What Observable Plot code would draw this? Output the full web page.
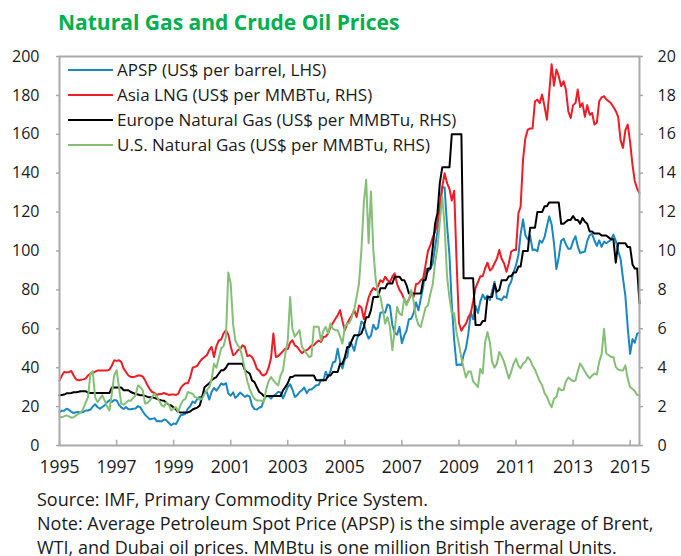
<!DOCTYPE html>
<html><head><meta charset="utf-8">
<script src="https://cdn.jsdelivr.net/npm/d3@7"></script>
<script src="https://cdn.jsdelivr.net/npm/@observablehq/plot@0.6"></script>
<style>
body{margin:0;background:#fff;font-family:"Open Sans",sans-serif;color:#1a1a1a}
#wrap{position:relative;width:681px;height:556px;overflow:hidden}
#title{position:absolute;left:58px;top:0;height:44px;line-height:44px;font-weight:bold;color:#00b050;font-size:21px;white-space:nowrap}
#chart{position:absolute;left:0;top:44px}
#legend{position:absolute;left:68px;top:57px}
.row{display:flex;align-items:center;height:25px;font-size:17px;white-space:nowrap}
.sw{width:45px;height:2px;margin-right:4px}
#foot{position:absolute;left:37px;top:487px;font-size:18px;line-height:24px;white-space:nowrap}
</style>
</head><body>
<div id="wrap">
  <div id="title">Natural Gas and Crude Oil Prices</div>
  <div id="chart"></div>
  <div id="legend"></div>
  <div id="foot"></div>
</div>
<script>
// Monthly data, Jan 1995 – May 2015
const startYear = 1995;
const nMonths = 245;

// APSP, US$ per barrel (LHS)
const apsp = [
  17.2, 17.9, 17.9, 18.9, 18.4, 17.3, 16.7, 17.1, 17.2, 16.9, 17.2, 18.0,
  18.0, 18.5, 20.0, 21.2, 19.8, 18.9, 19.8, 20.6, 22.2, 23.2, 22.4, 23.4,
  23.2, 20.9, 19.6, 18.8, 19.8, 18.6, 18.6, 18.9, 19.0, 20.3, 19.6, 17.6,
  15.8, 14.6, 13.5, 13.7, 14.1, 12.4, 12.6, 12.4, 13.4, 12.9, 11.6, 10.4,
  11.3, 11.1, 13.1, 15.6, 15.8, 16.3, 18.8, 20.2, 22.6, 21.9, 24.0, 25.0,
  25.1, 27.6, 27.5, 23.6, 27.5, 29.6, 28.2, 29.9, 31.9, 31.2, 32.1, 26.7,
  25.6, 27.3, 24.5, 25.6, 27.2, 26.1, 25.0, 25.8, 25.1, 20.5, 18.7, 18.5,
  19.4, 19.9, 23.6, 25.4, 25.3, 24.1, 25.5, 26.3, 27.6, 27.2, 24.2, 27.1,
  30.0, 31.5, 28.9, 25.0, 25.8, 27.5, 28.4, 29.8, 26.9, 28.8, 28.8, 29.8,
  31.0, 31.1, 33.8, 33.4, 37.9, 35.2, 38.2, 42.7, 43.2, 49.8, 43.1, 39.6,
  44.5, 45.5, 53.1, 51.9, 48.7, 54.3, 57.5, 63.8, 62.7, 58.3, 55.0, 56.5,
  62.1, 59.7, 60.6, 68.3, 68.5, 68.3, 72.5, 71.8, 62.0, 57.9, 57.0, 60.9,
  52.6, 56.6, 59.0, 64.9, 65.2, 68.2, 73.5, 69.5, 75.7, 81.7, 91.0, 89.4,
  90.8, 93.8, 102.0, 110.0, 123.9, 132.8, 132.6, 113.2, 98.0, 72.7, 54.0, 41.3,
  41.6, 41.4, 46.6, 50.1, 57.5, 68.6, 64.9, 71.7, 68.1, 74.1, 77.6, 75.3,
  77.1, 74.8, 79.3, 84.2, 75.6, 75.4, 74.7, 76.7, 76.0, 81.9, 84.3, 89.2,
  92.7, 97.9, 108.7, 116.2, 108.1, 105.9, 107.9, 100.5, 100.8, 99.9, 105.4, 104.3,
  107.1, 112.7, 117.8, 113.7, 104.0, 90.7, 96.8, 105.3, 106.3, 103.4, 101.2, 101.2,
  105.1, 107.6, 102.5, 98.9, 99.4, 99.7, 105.2, 108.1, 108.8, 105.4, 102.6, 105.5,
  102.1, 104.8, 104.0, 104.9, 105.7, 108.4, 105.2, 100.0, 95.9, 86.1, 76.9, 60.7,
  47.1, 54.8, 52.8, 57.5, 58.0
];

// Asia LNG, US$ per MMBTu (RHS)
const asiaLng = [
  3.35, 3.6, 3.78, 3.75, 3.78, 3.83, 3.6, 3.4, 3.35, 3.38, 3.4, 3.44,
  3.6, 3.7, 3.7, 3.8, 3.85, 3.85, 3.85, 3.85, 3.85, 3.9, 4.1, 4.38,
  4.35, 4.38, 4.3, 3.95, 3.78, 3.6, 3.52, 3.52, 3.55, 3.6, 3.6, 3.55,
  3.35, 3.1, 2.9, 2.75, 2.7, 2.6, 2.65, 2.65, 2.7, 2.65, 2.6, 2.62,
  2.62, 2.6, 2.65, 2.95, 3.1, 3.2, 3.2, 3.5, 4.0, 4.04, 4.1, 4.3,
  4.45, 4.55, 4.64, 4.9, 5.07, 4.55, 5.1, 5.4, 5.45, 5.76, 5.93, 5.7,
  5.1, 4.64, 4.72, 4.9, 4.95, 5.15, 5.07, 4.6, 4.64, 4.55, 4.3, 3.95,
  3.85, 3.65, 3.6, 3.7, 4.0, 4.5, 5.76, 4.55, 4.6, 4.72, 4.85, 4.98,
  4.95, 5.3, 5.41, 5.15, 5.07, 4.9, 4.75, 4.85, 4.9, 5.0, 5.15, 5.15,
  5.3, 5.4, 5.32, 5.58, 5.6, 5.76, 6.1, 6.3, 6.5, 6.7, 6.96, 6.4,
  5.93, 6.27, 6.5, 6.7, 6.96, 6.6, 7.2, 7.1, 6.5, 7.1, 7.6, 7.9,
  8.1, 8.0, 8.2, 8.5, 8.4, 8.68, 8.5, 8.4, 8.68, 8.85, 8.3, 8.0,
  7.8, 7.5, 7.3, 7.5, 7.8, 7.64, 8.3, 8.33, 8.5, 8.6, 9.3, 10.0,
  10.3, 10.7, 11.0, 11.5, 12.2, 13.3, 14.0, 13.5, 13.2, 12.6, 13.1, 9.5,
  6.3, 5.9, 6.1, 6.27, 6.6, 6.8, 7.4, 8.1, 8.4, 8.7, 8.7, 9.1,
  9.4, 9.0, 9.1, 9.37, 9.6, 10.05, 9.6, 9.37, 8.93, 9.37, 9.97, 10.05,
  10.05, 11.94, 12.28, 14.7, 15.8, 16.24, 16.3, 16.3, 17.7, 17.78, 17.6, 18.04,
  17.44, 16.75, 18.13, 19.6, 18.5, 19.33, 18.99, 18.47, 18.73, 18.3, 17.18, 16.84,
  17.5, 17.61, 18.3, 17.4, 17.6, 16.9, 17.5, 17.0, 17.1, 16.5, 16.6, 17.7,
  17.9, 17.96, 17.8, 17.7, 17.6, 17.4, 17.2, 16.9, 15.7, 15.3, 16.2, 16.5,
  15.6, 14.4, 13.6, 13.2, 12.97
];

// Europe natural gas, US$ per MMBTu (RHS)
const europeGas = [
  2.58, 2.6, 2.62, 2.68, 2.68, 2.7, 2.74, 2.74, 2.76, 2.79, 2.79, 2.79,
  2.72, 2.7, 2.7, 2.7, 2.7, 2.7, 2.7, 2.7, 2.7, 2.7, 2.98, 2.98,
  2.98, 2.98, 2.98, 2.84, 2.84, 2.84, 2.75, 2.7, 2.65, 2.62, 2.58, 2.58,
  2.55, 2.5, 2.48, 2.48, 2.45, 2.4, 2.35, 2.32, 2.3, 2.2, 2.1, 2.06,
  1.95, 1.85, 1.72, 1.7, 1.7, 1.7, 1.7, 1.75, 1.85, 1.9, 1.95, 2.06,
  2.5, 3.0, 3.1, 3.2, 3.35, 3.45, 3.52, 3.7, 3.87, 3.87, 4.0, 4.2,
  4.2, 4.2, 4.2, 4.2, 4.2, 4.2, 3.87, 3.78, 3.7, 3.35, 3.26, 3.0,
  2.75, 2.66, 2.54, 2.54, 2.54, 2.54, 2.54, 2.54, 2.54, 2.54, 2.84, 3.0,
  3.2, 3.52, 3.52, 3.6, 3.6, 3.6, 3.6, 3.6, 3.6, 3.6, 3.6, 3.6,
  3.35, 3.35, 3.35, 3.35, 3.35, 3.6, 3.6, 3.78, 3.78, 3.78, 4.2, 4.2,
  4.55, 5.07, 5.07, 5.4, 5.67, 5.67, 5.67, 5.76, 6.1, 6.6, 6.6, 6.96,
  7.64, 7.64, 7.64, 8.08, 8.08, 8.08, 8.33, 8.33, 8.33, 8.68, 8.68, 8.68,
  8.5, 8.5, 8.25, 7.82, 7.82, 7.82, 7.82, 7.82, 7.82, 8.5, 8.5, 9.1,
  9.1, 10.2, 11.4, 11.96, 13.5, 14.3, 14.3, 14.3, 14.3, 16.0, 16.0, 16.0,
  16.0, 16.0, 8.6, 8.6, 8.6, 8.6, 8.6, 6.2, 6.2, 6.2, 6.4, 6.4,
  7.64, 7.64, 7.64, 8.3, 7.9, 8.0, 8.5, 8.5, 8.5, 8.7, 8.7, 8.9,
  8.9, 9.2, 9.2, 10.0, 10.0, 10.0, 11.2, 11.2, 11.2, 12.0, 12.0, 12.0,
  12.3, 12.3, 12.5, 12.5, 12.5, 12.5, 12.5, 11.4, 11.4, 11.5, 11.6, 11.6,
  11.8, 11.6, 11.6, 11.4, 11.7, 11.5, 11.4, 11.0, 11.0, 10.9, 10.9, 10.9,
  10.8, 10.8, 10.8, 10.7, 10.6, 10.6, 9.4, 10.4, 10.4, 10.4, 10.4, 10.2,
  10.2, 9.3, 9.1, 9.1, 7.3
];

// U.S. natural gas, US$ per MMBTu (RHS)
const usGas = [
  1.5, 1.45, 1.5, 1.55, 1.5, 1.43, 1.45, 1.55, 1.63, 1.7, 1.89, 2.2,
  2.49, 3.7, 3.83, 2.49, 2.23, 2.4, 2.58, 2.32, 2.0, 1.8, 2.66, 3.6,
  3.87, 3.0, 2.15, 2.1, 2.2, 2.32, 2.3, 2.45, 2.58, 3.09, 3.0, 2.84,
  2.15, 2.2, 2.3, 2.5, 2.66, 2.49, 2.3, 2.06, 2.0, 2.23, 2.1, 1.8,
  1.9, 1.97, 1.72, 2.1, 2.32, 2.4, 2.75, 2.7, 2.66, 2.49, 2.45, 2.35,
  2.4, 2.66, 2.85, 3.0, 3.4, 4.2, 4.0, 4.5, 5.0, 5.1, 5.6, 8.9,
  8.3, 6.2, 5.4, 5.15, 5.0, 4.5, 3.9, 3.3, 2.9, 2.6, 2.4, 2.32,
  2.32, 2.3, 2.25, 2.9, 3.3, 3.52, 3.35, 3.2, 3.09, 3.6, 3.87, 4.72,
  5.4, 7.64, 6.0, 5.6, 5.76, 5.93, 5.07, 4.9, 4.72, 4.55, 4.6, 6.1,
  6.1, 6.1, 5.4, 5.9, 6.1, 5.76, 6.27, 6.0, 5.93, 5.93, 5.6, 5.24,
  6.1, 6.27, 6.3, 6.6, 7.0, 7.64, 8.33, 10.05, 12.5, 13.66, 10.4, 13.06,
  10.0, 8.5, 7.82, 7.64, 7.0, 6.27, 6.6, 6.1, 4.9, 5.9, 7.13, 6.79,
  6.7, 7.6, 7.2, 7.5, 7.99, 7.4, 6.6, 6.2, 6.1, 6.6, 7.1, 7.2,
  7.8, 8.3, 9.4, 10.2, 11.5, 12.8, 11.3, 8.7, 7.6, 6.8, 6.8, 5.8,
  5.2, 4.5, 4.0, 3.5, 3.8, 3.8, 3.3, 3.15, 3.0, 3.95, 3.7, 5.3,
  5.84, 5.3, 4.3, 4.0, 4.2, 4.81, 4.6, 4.3, 3.87, 3.44, 3.8, 4.21,
  4.47, 4.1, 3.97, 4.21, 4.3, 4.55, 4.4, 4.1, 3.9, 3.6, 3.3, 3.1,
  2.7, 2.5, 2.2, 1.97, 2.4, 2.5, 2.95, 2.84, 2.85, 3.3, 3.5, 3.4,
  3.3, 3.35, 3.8, 4.21, 4.04, 3.8, 3.6, 3.45, 3.6, 3.7, 3.65, 4.3,
  4.7, 6.0, 4.73, 4.65, 4.55, 4.55, 4.04, 3.9, 3.87, 3.85, 4.12, 3.44,
  3.0, 2.9, 2.8, 2.6, 2.58
];

const seriesNames = [
  "APSP (US$ per barrel, LHS)",
  "Asia LNG (US$ per MMBTu, RHS)",
  "Europe Natural Gas (US$ per MMBTu, RHS)",
  "U.S. Natural Gas (US$ per MMBTu, RHS)"
];
const seriesColors = ["#1b87c0", "#ee1c25", "#000000", "#85bf76"];
const leftTicks = [0, 20, 40, 60, 80, 100, 120, 140, 160, 180, 200];
const yearTicks = [1995, 1997, 1999, 2001, 2003, 2005, 2007, 2009, 2011, 2013, 2015];
const rhsFactor = 10; // RHS 20 = LHS 200

const months = d3.range(nMonths).map(i => new Date(Date.UTC(startYear, i, 1)));
const tickDates = yearTicks.map(y => new Date(Date.UTC(y, 0, 1)));

const rows = [];
const push = (arr, name, scale) => arr.forEach((v, i) => rows.push({date: months[i], value: v * scale, name}));
push(apsp, seriesNames[0], 1);
push(asiaLng, seriesNames[1], rhsFactor);
push(europeGas, seriesNames[2], rhsFactor);
push(usGas, seriesNames[3], rhsFactor);

const axisColor = "#a9a9a9";
const chart = Plot.plot({
  width: 681,
  height: 440,
  marginLeft: 59,
  marginRight: 42,
  marginTop: 12,
  marginBottom: 39,
  style: {fontFamily: '"Open Sans", sans-serif', color: "#1a1a1a", background: "#fff"},
  x: {type: "utc", domain: [months[0], months[nMonths - 1]], label: null},
  y: {domain: [0, 200], label: null},
  color: {domain: seriesNames, range: seriesColors},
  marks: [
    Plot.line(rows, {x: "date", y: "value", z: "name", stroke: "name", strokeWidth: 2, curve: "linear"}),
    Plot.frame({stroke: axisColor, strokeWidth: 2}),
    Plot.ruleX(tickDates, {x: d => d, y1: 0, y2: 2.7, stroke: axisColor, strokeWidth: 1.5}),
    Plot.axisX({ticks: tickDates, tickFormat: d3.utcFormat("%Y"), tickSize: 0, tickPadding: 15, fontSize: 17.5, fill: "#1a1a1a", label: null}),
    Plot.axisY({anchor: "left", ticks: leftTicks, tickSize: 3, tickPadding: 17, fontSize: 16, stroke: axisColor, strokeWidth: 1.5, fill: "#1a1a1a", label: null}),
    Plot.axisY({anchor: "right", ticks: leftTicks, tickFormat: d => String(d / rhsFactor), tickSize: 3, tickPadding: 15, fontSize: 16, stroke: axisColor, strokeWidth: 1.5, fill: "#1a1a1a", label: null})
  ]
});
document.getElementById("chart").appendChild(chart);

const legend = document.getElementById("legend");
seriesNames.forEach((n, i) => {
  const r = document.createElement("div");
  r.className = "row";
  const s = document.createElement("span");
  s.className = "sw";
  s.style.background = seriesColors[i];
  const t = document.createElement("span");
  t.textContent = n;
  r.appendChild(s); r.appendChild(t);
  legend.appendChild(r);
});

const footLines = [
  "Source: IMF, Primary Commodity Price System.",
  "Note: Average Petroleum Spot Price (APSP) is the simple average of Brent,",
  "WTI, and Dubai oil prices. MMBtu is one million British Thermal Units."
];
const foot = document.getElementById("foot");
footLines.forEach(l => { const d = document.createElement("div"); d.textContent = l; foot.appendChild(d); });
</script>
</body></html>
